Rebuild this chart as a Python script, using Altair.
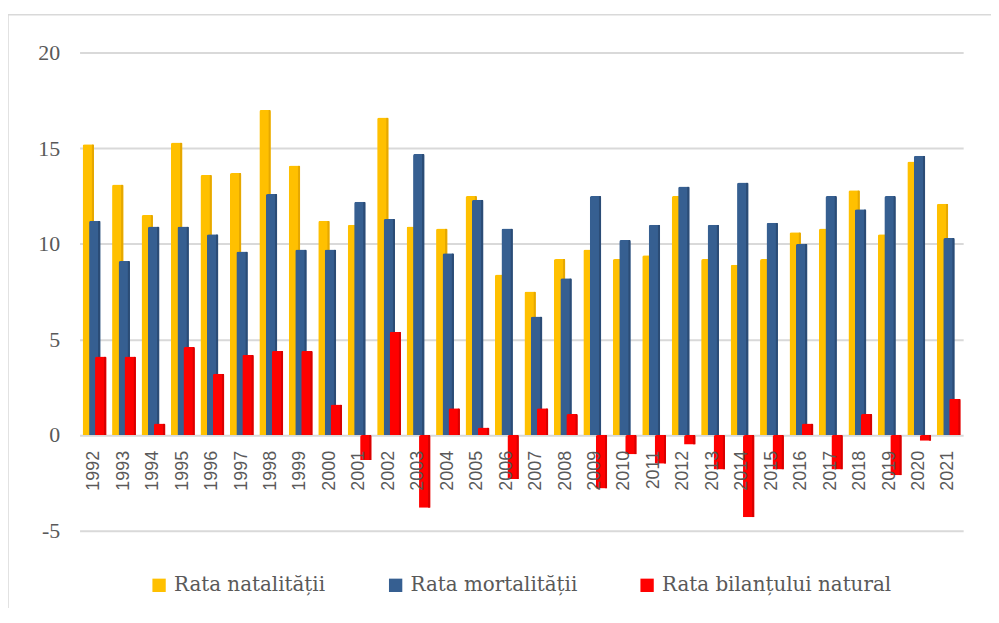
import altair as alt
import pandas as pd

years = [str(y) for y in range(1992, 2022)]
natalitate = [15.2, 13.1, 11.5, 15.3, 13.6, 13.7, 17.0, 14.1, 11.2, 11.0,
              16.6, 10.9, 10.8, 12.5, 8.4, 7.5, 9.2, 9.7, 9.2, 9.4,
              12.5, 9.2, 8.9, 9.2, 10.6, 10.8, 12.8, 10.5, 14.3, 12.1]
mortalitate = [11.2, 9.1, 10.9, 10.9, 10.5, 9.6, 12.6, 9.7, 9.7, 12.2,
               11.3, 14.7, 9.5, 12.3, 10.8, 6.2, 8.2, 12.5, 10.2, 11.0,
               13.0, 11.0, 13.2, 11.1, 10.0, 12.5, 11.8, 12.5, 14.6, 10.3]
bilant = [4.1, 4.1, 0.6, 4.6, 3.2, 4.2, 4.4, 4.4, 1.6, -1.3,
          5.4, -3.8, 1.4, 0.4, -2.3, 1.4, 1.1, -2.8, -1.0, -1.5,
          -0.5, -1.8, -4.3, -1.8, 0.6, -1.8, 1.1, -2.1, -0.3, 1.9]

series = ["Rata natalității", "Rata mortalității", "Rata bilanțului natural"]
colors = ["#FFC000", "#365F91", "#FF0000"]
shade_colors = ["#E6A800", "#2B4C76", "#D80000"]
y_ticks = [-5, 0, 5, 10, 15, 20]

rows = []
for s, vals in zip(series, [natalitate, mortalitate, bilant]):
    for y, v in zip(years, vals):
        rows.append({"An": y, "Serie": s, "Valoare": v})
df = pd.DataFrame(rows)
df_years = pd.DataFrame({"An": years})

W, H = 889, 481
BAR_W = 11.5
SHADE_W = 2.5

x_enc = alt.X("An:N", sort=years, axis=None,
              scale=alt.Scale(paddingInner=0, paddingOuter=0))
y_scale = alt.Scale(domain=[-5, 20], nice=False)
y_axis = alt.Axis(values=y_ticks, domain=False, ticks=False,
                  labelFont="Liberation Serif", labelFontSize=22,
                  labelColor="#595959", labelPadding=20,
                  labelExpr="datum.value + ''",
                  gridColor="#D9D9D9", gridWidth=2)
color_enc = alt.Color(
    "Serie:N",
    scale=alt.Scale(domain=series, range=colors),
    legend=alt.Legend(
        title=None, orient="none", legendX=70, legendY=526,
        direction="horizontal", columns=3, symbolType="square",
        symbolSize=180, symbolStrokeWidth=0, labelFont="DejaVu Serif",
        labelFontSize=20, labelColor="#595959", labelOffset=5,
        columnPadding=60, labelLimit=400,
    ),
)

base = alt.Chart(df)

offsets = [-6, 0.5, 6.5]
layers = []
for i, s in enumerate(series):
    y_enc = alt.Y("Valoare:Q", scale=y_scale, title=None, axis=y_axis)
    sub = base.transform_filter(alt.datum.Serie == s)
    layers.append(
        sub.mark_bar(width=BAR_W, xOffset=offsets[i], cornerRadiusEnd=2)
        .encode(x=x_enc, y=y_enc, color=color_enc)
    )
    layers.append(
        sub.mark_bar(width=SHADE_W, xOffset=offsets[i] + BAR_W / 2 - SHADE_W / 2,
                     cornerRadiusEnd=1, color=shade_colors[i])
        .encode(x=x_enc, y=y_enc)
    )

labels = (
    alt.Chart(df_years)
    .mark_text(angle=270, align="right", baseline="middle", yOffset=16,
               font="Liberation Sans", fontSize=18, color="#595959")
    .encode(x=x_enc, y=alt.Y(datum=0, scale=y_scale, axis=y_axis, title=None), text="An:N")
)

frame = (
    alt.Chart(df_years.head(1))
    .mark_rect(fill=None, stroke="#D9D9D9", strokeWidth=1.5, clip=False)
    .encode(x=alt.value(-72), x2=alt.value(W + 60), y=alt.value(-38), y2=alt.value(H + 200))
)

chart = (
    alt.layer(*layers, labels, frame)
    .properties(
        width=W, height=H,
        background="white",
        autosize=alt.AutoSizeParams(type="none"),
        padding={"left": 72, "top": 43, "right": 28, "bottom": 76},
    )
    .configure_view(strokeWidth=0)
)

chart.save("out.html", embed_options={"renderer": "svg", "actions": False})
